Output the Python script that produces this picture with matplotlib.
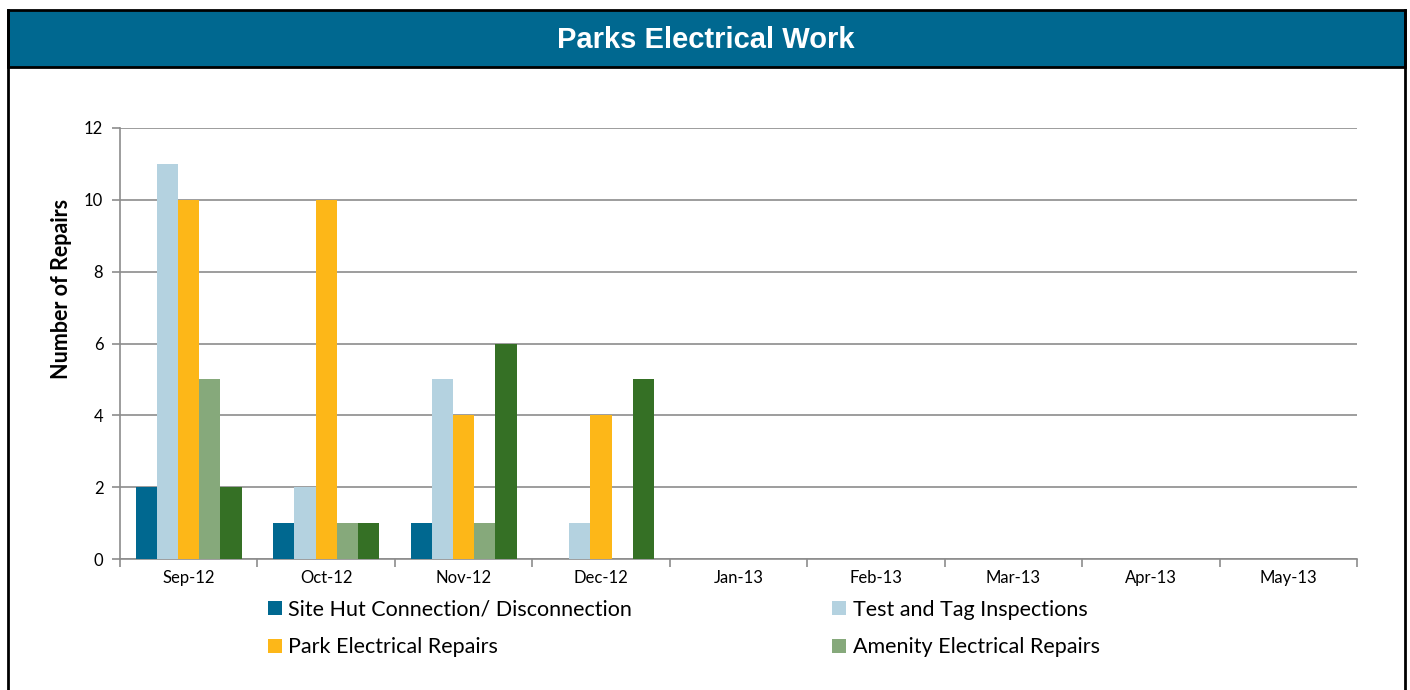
import numpy as np
import matplotlib
matplotlib.use('Agg')
import matplotlib.pyplot as plt
from matplotlib.patches import Rectangle, Patch
from matplotlib.lines import Line2D

months = ["Sep-12", "Oct-12", "Nov-12", "Dec-12", "Jan-13", "Feb-13", "Mar-13", "Apr-13", "May-13"]

site_hut = [2, 1, 1, 0, 0, 0, 0, 0, 0]
test_tag = [11, 2, 5, 1, 0, 0, 0, 0, 0]
park_repairs = [10, 10, 4, 4, 0, 0, 0, 0, 0]
amenity_repairs = [5, 1, 1, 0, 0, 0, 0, 0, 0]
other_repairs = [2, 1, 6, 5, 0, 0, 0, 0, 0]

series_names = ["Site Hut Connection/ Disconnection", "Test and Tag Inspections",
                "Park Electrical Repairs", "Amenity Electrical Repairs", None]
series_values = [site_hut, test_tag, park_repairs, amenity_repairs, other_repairs]
colors = ["#006890", "#b4d2e0", "#fdb718", "#86a97b", "#357025"]

W, H = 1410, 690
fig = plt.figure(figsize=(W / 100, H / 100), dpi=100)


def fx(px):
    return px / W


def fy(py):
    return 1 - py / H


# header band and frame
fig.patches.append(Rectangle((fx(8), fy(67)), fx(1397), 57 / H, transform=fig.transFigure,
                             facecolor="#006890", edgecolor="black", linewidth=2, zorder=0))
fig.add_artist(Line2D([fx(8), fx(8)], [fy(10), 0], color="black", linewidth=2, transform=fig.transFigure))
fig.add_artist(Line2D([fx(1405), fx(1405)], [fy(10), 0], color="black", linewidth=2, transform=fig.transFigure))
fig.text(fx(706), fy(40), "Parks Electrical Work", color="white", fontsize=21, fontweight="bold",
         family="Liberation Sans", ha="center", va="center")

ax = fig.add_axes([fx(120), fy(559), fx(1357 - 120), (559 - 128) / H])

n = len(series_values)
x = np.arange(len(months))
group = 0.77
bw = group / n
bars = []
for i, (vals, c) in enumerate(zip(series_values, colors)):
    b = ax.bar(x - group / 2 + bw * (i + 0.5), vals, width=bw, color=c, zorder=3)
    bars.append(b)

ax.set_xlim(-0.5, len(months) - 0.5)
ax.set_ylim(0, 12)
ax.set_yticks(range(0, 13, 2))
ax.yaxis.grid(True, color="#8c8c8c", linewidth=1.2, zorder=0)
ax.set_xticks(x)
ax.set_xticklabels(months, family="Lato", fontsize=12)
ax.set_xticks(np.arange(-0.5, len(months)), minor=True)
ax.tick_params(axis="x", which="major", length=0, pad=8)
ax.tick_params(axis="x", which="minor", length=6, color="#8c8c8c", width=1.2)
ax.tick_params(axis="y", length=6, color="#8c8c8c", width=1.2, labelsize=12, pad=6)
for lab in ax.get_yticklabels():
    lab.set_family("Lato")
for s in ["top", "right"]:
    ax.spines[s].set_visible(False)
for s in ["left", "bottom"]:
    ax.spines[s].set_color("#8c8c8c")
    ax.spines[s].set_linewidth(1.2)

fig.text(fx(61), fy(289), "Number of Repairs", rotation=90, ha="center", va="center",
         fontsize=15.5, fontweight="bold", family="Lato")

order = [0, 2, 1, 3]
handles = [Patch(facecolor=colors[i]) for i in order]
labels = [series_names[i] for i in order]
fig.legend(handles, labels, ncol=2, loc="upper left", bbox_to_anchor=(fx(257), fy(589)),
           frameon=False, prop={"family": "Lato", "size": 15.5}, handlelength=0.65, handleheight=0.65,
           handletextpad=0.3, columnspacing=9.3, labelspacing=0.82, borderpad=0)

fig.savefig("out.png", dpi=100)
